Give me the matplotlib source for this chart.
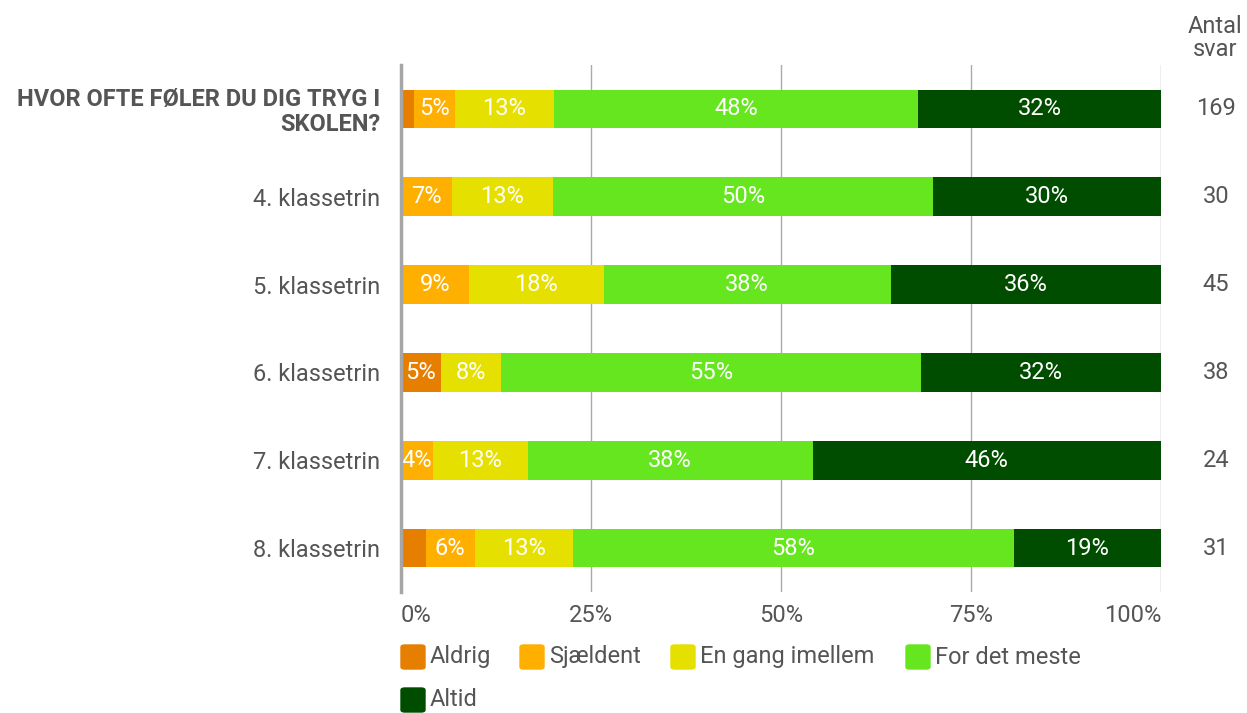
import matplotlib
matplotlib.use("Agg")
import matplotlib.pyplot as plt
from matplotlib.patches import FancyBboxPatch
import numpy as np

plt.rcParams['font.family'] = ['Roboto', 'DejaVu Sans']

# Data: antal svar per kategori
rows = ["HVOR OFTE FØLER DU DIG TRYG I\nSKOLEN?", "4. klassetrin", "5. klassetrin",
        "6. klassetrin", "7. klassetrin", "8. klassetrin"]
categories = ["Aldrig", "Sjældent", "En gang imellem", "For det meste", "Altid"]
aldrig = [3, 0, 0, 2, 0, 1]
sjaeldent = [9, 2, 4, 0, 1, 2]
en_gang = [22, 4, 8, 3, 3, 4]
mest = [81, 15, 17, 21, 9, 18]
altid = [54, 9, 16, 12, 11, 6]
antal = [169, 30, 45, 38, 24, 31]
ticks = [0, 25, 50, 75, 100]

colors = ["#E67E00", "#FFAF00", "#E6E000", "#66E61E", "#004D00"]
grey = "#555555"
fs = 17

counts = np.array([aldrig, sjaeldent, en_gang, mest, altid], dtype=float)
pct = counts / np.array(antal) * 100

fig = plt.figure(figsize=(12.47, 7.13), dpi=100)
ax = fig.add_axes([401 / 1247, 1 - 592 / 713, 760 / 1247, 527 / 713])

y = np.arange(len(rows))
left = np.zeros(len(rows))
for k in range(len(categories)):
    ax.barh(y, pct[k], left=left, height=0.44, color=colors[k], zorder=2)
    for i in range(len(rows)):
        if pct[k][i] >= 4:
            ax.text(left[i] + pct[k][i] / 2, y[i], "%d%%" % int(pct[k][i] + 0.5),
                    ha="center", va="center", color="white", fontsize=fs, zorder=3)
    left += pct[k]

ax.set_xlim(0, 100)
ax.set_ylim(len(rows) - 0.5, -0.5)
ax.set_xticks(ticks)
ax.set_xticklabels(["%d%%" % t for t in ticks], fontsize=fs, color=grey)
xl = ax.get_xticklabels()
xl[0].set_horizontalalignment("left")
xl[-1].set_horizontalalignment("right")
ax.xaxis.grid(True, color="#AAAAAA", linewidth=1, zorder=0)
ax.set_yticks(y)
ax.set_yticklabels(rows, fontsize=fs, color=grey)
lbl = ax.get_yticklabels()[0]
lbl.set_fontweight("bold")
lbl.set_linespacing(1.1)
ax.tick_params(length=0, pad=15)
ax.tick_params(axis="x", pad=9)
for s in ["top", "right", "bottom"]:
    ax.spines[s].set_visible(False)
ax.spines["left"].set_color("#A6A6A6")
ax.spines["left"].set_linewidth(2.5)
ax.spines["left"].set_zorder(4)

# Antal svar
fig.text(1215 / 1247, 1 - 38 / 713, "Antal\nsvar", ha="center", va="center",
         fontsize=fs, color=grey, linespacing=1.05)
for i in range(len(rows)):
    ax.text(1.072, y[i], str(antal[i]), transform=ax.get_yaxis_transform(),
            ha="center", va="center", fontsize=fs, color=grey)

# Legend
leg_pos = [(401, 657), (520, 657), (671, 657), (906, 657), (401, 700)]
for (px, py), c, name in zip(leg_pos, colors, categories):
    w = 24 / 1247
    h = 24 / 713
    fig.patches.append(FancyBboxPatch((px / 1247, 1 - py / 713 - h / 2), w, h,
                                      boxstyle="round,pad=0,rounding_size=0.003",
                                      transform=fig.transFigure, color=c))
    fig.text((px + 29) / 1247, 1 - py / 713, name, ha="left", va="center",
             fontsize=fs, color=grey)

fig.savefig("out.png", dpi=100)
